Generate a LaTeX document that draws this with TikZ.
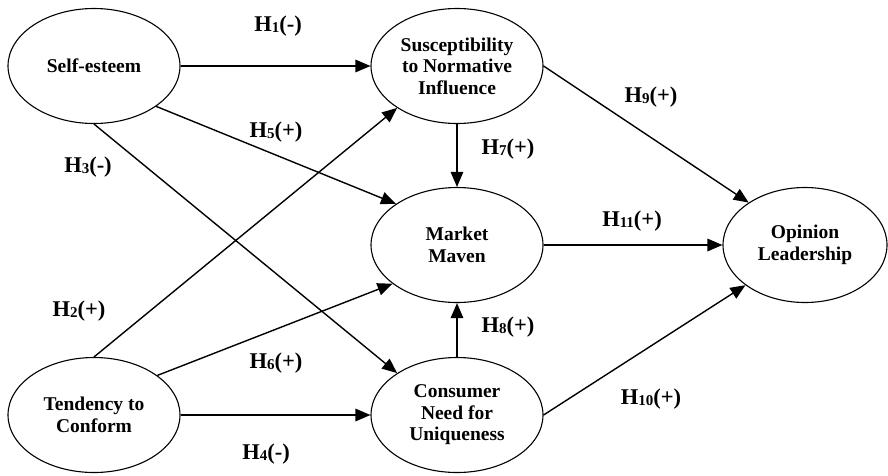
\documentclass[tikz,border=0pt]{standalone}
\usepackage{fontspec}
\setmainfont{Liberation Serif}
\usetikzlibrary{shapes.geometric,arrows.meta}
\newcommand\hyp[2]{H\raisebox{-1.5pt}{\fontsize{15}{15}\selectfont #1}#2}
\begin{document}
\begin{tikzpicture}[x=1pt,y=-1pt,
  ell/.style={ellipse,draw,line width=1.1pt,minimum width=172pt,minimum height=115pt,inner sep=0pt,align=center,font=\fontsize{19.5}{21.5}\selectfont\bfseries},
  arr/.style={line width=1.4pt,-{Triangle[length=15pt,width=12.5pt]}},
  lab/.style={font=\fontsize{22.5}{24}\selectfont\bfseries,inner sep=0pt}]
\useasboundingbox (0,0) rectangle (888,475);
\node[ell] (se) at (94,66) {Self-esteem};
\node[ell] (sni) at (457,66) {Susceptibility\\to Normative\\Influence};
\node[ell] (mm) at (457,245) {Market\\Maven};
\node[ell] (cnu) at (457,415) {Consumer\\Need for\\Uniqueness};
\node[ell] (tc) at (94,415) {Tendency to\\Conform};
\node[ell,minimum width=164pt] (ol) at (805,245) {Opinion\\Leadership};

\draw[arr] (se.east) -- (sni.west);
\draw[arr] (se.-33.5) -- (mm.146.3);
\draw[arr] (se.south) -- (cnu.145);
\draw[arr] (tc.north) -- (sni.215);
\draw[arr] (tc.32.8) -- (mm.211.7);
\draw[arr] (tc.east) -- (cnu.west);
\draw[arr] (sni.south) -- (mm.north);
\draw[arr] (cnu.north) -- (mm.south);
\draw[arr] (sni.east) -- (ol.143.4);
\draw[arr] (mm.east) -- (ol.west);
\draw[arr] (cnu.east) -- (ol.214.6);

\node[lab] (h1) at (278,26) {\hyp{1}{(-)}};
\node[lab] (h5) at (276,132) {\hyp{5}{(+)}};
\node[lab] (h3) at (88,167) {\hyp{3}{(-)}};
\node[lab] (h9) at (651,97) {\hyp{9}{(+)}};
\node[lab] (h7) at (508,149) {\hyp{7}{(+)}};
\node[lab] (h11) at (632,221) {\hyp{11}{(+)}};
\node[lab] (h2) at (79,311) {\hyp{2}{(+)}};
\node[lab] (h6) at (276,363) {\hyp{6}{(+)}};
\node[lab] (h4) at (266,454) {\hyp{4}{(-)}};
\node[lab] (h8) at (508,327) {\hyp{8}{(+)}};
\node[lab] (h10) at (651,399) {\hyp{10}{(+)}};
\end{tikzpicture}
\end{document}
